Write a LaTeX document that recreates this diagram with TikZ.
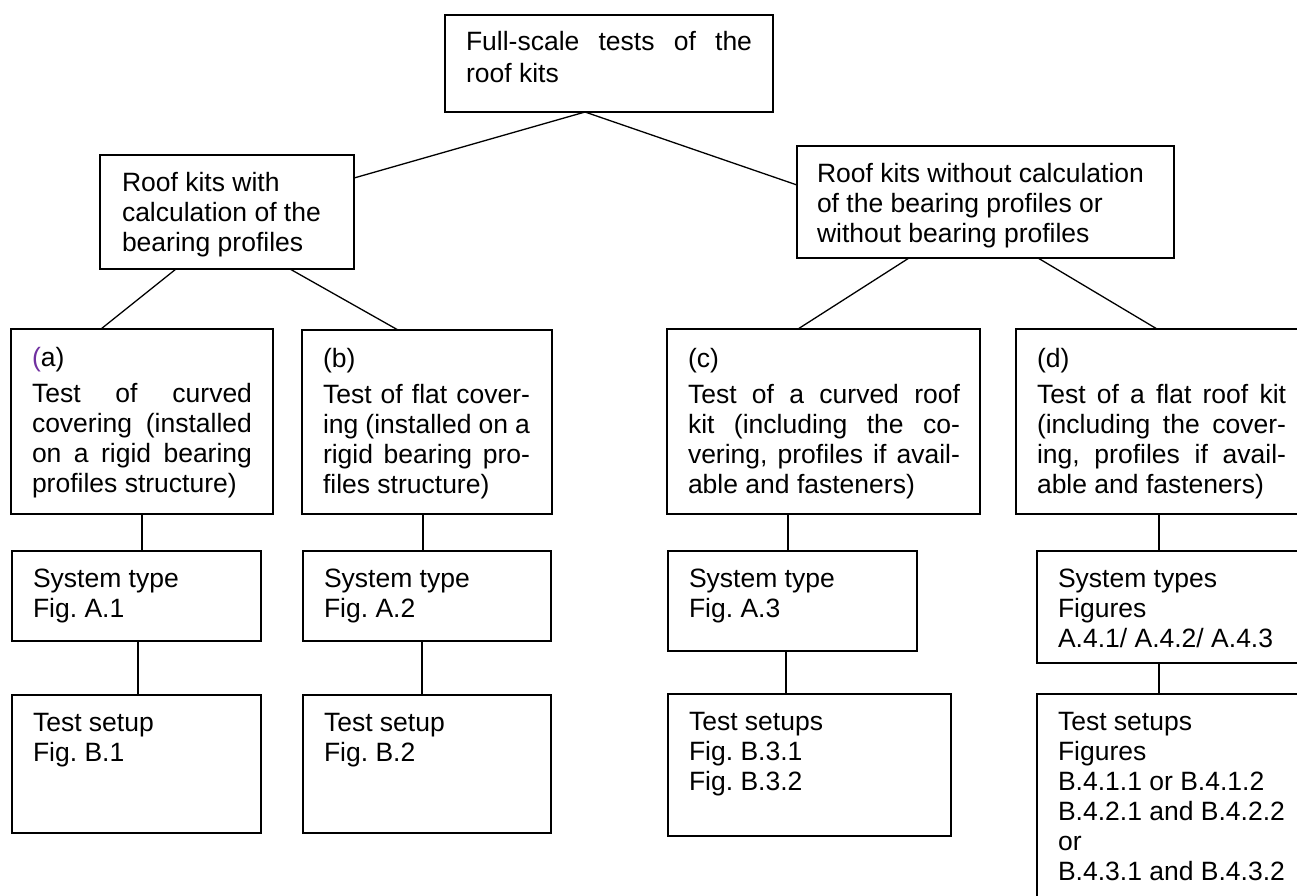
\documentclass[tikz,border=0pt]{standalone}
\usepackage{fontspec}
\setmainfont{Liberation Sans}
\definecolor{purp}{RGB}{112,48,160}
\newcommand\jl[1]{\makebox[\linewidth][s]{#1}}
\frenchspacing
\tikzset{
  box/.style={draw, line width=1.8pt, inner sep=0pt, outer sep=0pt, anchor=north west},
  txt/.style={inner sep=0pt, outer sep=0pt, anchor=base west, font=\fontsize{26.5}{30}\selectfont\frenchspacing},
  link/.style={line width=1.3pt}
}
\begin{document}
\begin{tikzpicture}[x=1pt,y=-1pt]
\useasboundingbox (0,0) rectangle (1297,895);
\fill[white] (0,0) rectangle (1297,895);
\clip (0,0) rectangle (1297,895);
% boxes
\node[box, minimum width=328pt, minimum height=97pt]  (top) at (445,15) {};
\node[box, minimum width=254pt, minimum height=114pt] (with) at (100,155) {};
\node[box, minimum width=377pt, minimum height=112pt] (without) at (797,146) {};
\node[box, minimum width=262pt, minimum height=185pt] (a) at (11,329) {};
\node[box, minimum width=250pt, minimum height=184pt] (b) at (302,330) {};
\node[box, minimum width=313pt, minimum height=185pt] (c) at (667,329) {};
\node[box, minimum width=300pt, minimum height=185pt] (d) at (1016,329) {};
\node[box, minimum width=249pt, minimum height=90pt]  (A1) at (12,551) {};
\node[box, minimum width=248pt, minimum height=90pt]  (A2) at (303,551) {};
\node[box, minimum width=249pt, minimum height=100pt] (A3) at (668,551) {};
\node[box, minimum width=280pt, minimum height=112pt] (A4) at (1037,551) {};
\node[box, minimum width=249pt, minimum height=138pt] (B1) at (12,695) {};
\node[box, minimum width=248pt, minimum height=138pt] (B2) at (303,695) {};
\node[box, minimum width=283pt, minimum height=142pt] (B3) at (668,694) {};
\node[box, minimum width=280pt, minimum height=230pt] (B4) at (1037,694) {};
% texts
\node[txt] (ttop) at (466,50) {\parbox[t]{286pt}{\jl{Full-scale tests of the}\\[2pt]roof kits}};
\node[txt] (twith) at (122,191) {\parbox[t]{230pt}{Roof kits with\\calculation of the\\bearing profiles}};
\node[txt] (twithout) at (817,182) {\parbox[t]{350pt}{Roof kits without calculation\\of the bearing profiles or\\without bearing profiles}};
\node[txt] (ta) at (32,366) {\parbox[t]{220pt}{\leavevmode{\color{purp}(}a)\\[6pt]\jl{Test of curved}\\\jl{covering (installed}\\\jl{on a rigid bearing}\\profiles structure)}};
\node[txt] (tb) at (323,367) {\parbox[t]{207pt}{(b)\\[6pt]\jl{Test of flat cover-}\\\jl{ing (installed on a}\\\jl{rigid bearing pro-}\\files structure)}};
\node[txt] (tc) at (688,367) {\parbox[t]{272pt}{(c)\\[6pt]\jl{Test of a curved roof}\\\jl{kit (including the co-}\\\jl{vering, profiles if avail-}\\able and fasteners)}};
\node[txt] (td) at (1037,367) {\parbox[t]{249pt}{(d)\\[6pt]\jl{Test of a flat roof kit}\\\jl{(including the cover-}\\\jl{ing, profiles if avail-}\\able and fasteners)}};
\node[txt] (tA1) at (33,587) {\parbox[t]{220pt}{System type\\Fig. A.1}};
\node[txt] (tA2) at (324,587) {\parbox[t]{220pt}{System type\\Fig. A.2}};
\node[txt] (tA3) at (689,587) {\parbox[t]{220pt}{System type\\Fig. A.3}};
\node[txt] (tA4) at (1058,587) {\parbox[t]{240pt}{System types\\Figures\\A.4.1/ A.4.2/ A.4.3}};
\node[txt] (tB1) at (33,731) {\parbox[t]{220pt}{Test setup\\Fig. B.1}};
\node[txt] (tB2) at (324,731) {\parbox[t]{220pt}{Test setup\\Fig. B.2}};
\node[txt] (tB3) at (689,730) {\parbox[t]{250pt}{Test setups\\Fig. B.3.1\\Fig. B.3.2}};
\node[txt] (tB4) at (1058,730) {\parbox[t]{240pt}{Test setups\\Figures\\B.4.1.1 or B.4.1.2\\B.4.2.1 and B.4.2.2\\or\\B.4.3.1 and B.4.3.2}};
% connectors
\draw[link] ([xshift=140pt]top.south west) -- ([yshift=-23pt]with.north east);
\draw[link] ([xshift=140pt]top.south west) -- ([yshift=-39pt]without.north west);
\draw[link] ([xshift=76pt]with.south west) -- ([xshift=90pt]a.north west);
\draw[link] ([xshift=190pt]with.south west) -- ([xshift=96pt]b.north west);
\draw[link] ([xshift=112pt]without.south west) -- ([xshift=131pt]c.north west);
\draw[link] ([xshift=241pt]without.south west) -- ([xshift=141pt]d.north west);
\draw[link] ([xshift=131pt]a.south west) -- ([xshift=130pt]A1.north west);
\draw[link] ([xshift=126pt]A1.south west) -- ([xshift=126pt]B1.north west);
\draw[link] ([xshift=121pt]b.south west) -- ([xshift=120pt]A2.north west);
\draw[link] ([xshift=119pt]A2.south west) -- ([xshift=119pt]B2.north west);
\draw[link] ([xshift=121pt]c.south west) -- ([xshift=120pt]A3.north west);
\draw[link] ([xshift=118pt]A3.south west) -- ([xshift=118pt]B3.north west);
\draw[link] ([xshift=143pt]d.south west) -- ([xshift=122pt]A4.north west);
\draw[link] ([xshift=122pt]A4.south west) -- ([xshift=122pt]B4.north west);
\end{tikzpicture}
\end{document}
